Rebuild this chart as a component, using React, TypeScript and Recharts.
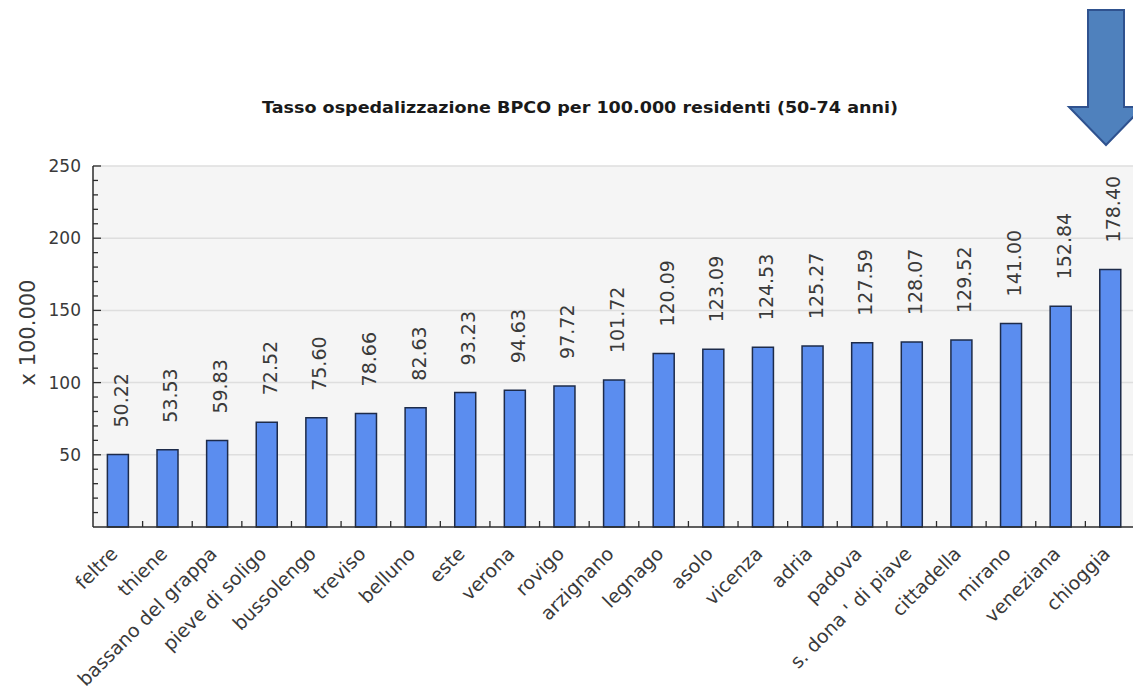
import { Bar, BarChart, CartesianGrid, LabelList, XAxis, YAxis } from "recharts";

const districts = [
  "feltre",
  "thiene",
  "bassano del grappa",
  "pieve di soligo",
  "bussolengo",
  "treviso",
  "belluno",
  "este",
  "verona",
  "rovigo",
  "arzignano",
  "legnago",
  "asolo",
  "vicenza",
  "adria",
  "padova",
  "s. dona ' di piave",
  "cittadella",
  "mirano",
  "veneziana",
  "chioggia",
];

const rates = [
  50.22, 53.53, 59.83, 72.52, 75.6, 78.66, 82.63, 93.23, 94.63, 97.72, 101.72, 120.09, 123.09, 124.53,
  125.27, 127.59, 128.07, 129.52, 141.0, 152.84, 178.4,
];

const yTicks = [0, 10, 20, 30, 40, 50, 60, 70, 80, 90, 100, 110, 120, 130, 140, 150, 160, 170, 180, 190, 200, 210, 220, 230, 240, 250];
const yMajor = [50, 100, 150, 200, 250];

const data = districts.map((name, i) => ({ name, value: rates[i] }));

const FONT = "'DejaVu Sans', Verdana, sans-serif";
const TEXT = "#3a3a3a";
const AXIS = "#2b2b2b";

function YTick({ x, y, payload }: any) {
  const major = payload.value % 50 === 0;
  if (payload.value === 0) return null;
  return (
    <g>
      <line x1={x} x2={x + (major ? 8 : 5)} y1={y} y2={y} stroke={AXIS} strokeWidth={1.3} />
      {major && (
        <text x={x - 12} y={y + 6} textAnchor="end" fontSize={17} fill={TEXT} fontFamily={FONT}>
          {payload.value}
        </text>
      )}
    </g>
  );
}

function XTick({ x, y, payload, index }: any) {
  const band = 49.6;
  const ax = x + 1;
  const ay = y + 28;
  return (
    <g>
      {index < districts.length - 1 && (
        <line x1={x + band / 2} x2={x + band / 2} y1={y} y2={y - 6} stroke={AXIS} strokeWidth={1.3} />
      )}
      <text
        x={ax}
        y={ay}
        textAnchor="end"
        fontSize={19}
        fill={TEXT}
        fontFamily={FONT}
        transform={`rotate(-45 ${ax} ${ay})`}
      >
        {payload.value}
      </text>
    </g>
  );
}

function ValueLabel({ x, y, width, value }: any) {
  const tx = x + width / 2 + 10;
  const ty = y - 27;
  return (
    <text
      x={tx}
      y={ty}
      textAnchor="start"
      fontSize={19}
      fill={TEXT}
      fontFamily={FONT}
      transform={`rotate(-90 ${tx} ${ty})`}
    >
      {Number(value).toFixed(2)}
    </text>
  );
}

function YTitle({ viewBox }: any) {
  const cx = 35;
  const cy = viewBox.y + viewBox.height / 2 - 14;
  return (
    <text
      x={cx}
      y={cy}
      textAnchor="middle"
      fontSize={21}
      fill={TEXT}
      fontFamily={FONT}
      transform={`rotate(-90 ${cx} ${cy})`}
    >
      x 100.000
    </text>
  );
}

export default function App() {
  return (
    <div style={{ position: "fixed", left: 0, top: 0, width: 1133, height: 699, overflow: "hidden", background: "#fff" }}>
      <BarChart
        width={1140}
        height={699}
        data={data}
        margin={{ top: 166, right: 5, bottom: 0, left: 0 }}
        barCategoryGap="29%"
      >
        <CartesianGrid
          vertical={false}
          fill="#f5f5f5"
          stroke="#dedede"
          strokeWidth={1.5}
          horizontalValues={yMajor}
        />
        <XAxis
          dataKey="name"
          height={172}
          interval={0}
          tickLine={false}
          tickSize={0}
          tickMargin={0}
          stroke={AXIS}
          strokeWidth={1.5}
          tick={<XTick />}
        />
        <YAxis
          width={93}
          domain={[0, 250]}
          ticks={yTicks}
          interval={0}
          tickLine={false}
          tickSize={0}
          tickMargin={0}
          stroke={AXIS}
          strokeWidth={1.5}
          tick={<YTick />}
          label={<YTitle />}
        />
        <Bar dataKey="value" fill="#5b8def" stroke="#1d2b4a" strokeWidth={1.5} isAnimationActive={false}>
          <LabelList dataKey="value" content={<ValueLabel />} />
        </Bar>
      </BarChart>
      <svg width={1133} height={699} style={{ position: "absolute", left: 0, top: 0, pointerEvents: "none" }}>
        <text
          x={580}
          y={113}
          textAnchor="middle"
          fontSize={16}
          fontWeight="bold"
          fill="#1a1a1a"
          fontFamily={FONT}
          textLength={636}
          lengthAdjust="spacingAndGlyphs"
        >
          Tasso ospedalizzazione BPCO per 100.000 residenti (50-74 anni)
        </text>
        <path
          d="M1088 10 L1124 10 L1124 107 L1143 107 L1106 145 L1069 107 L1088 107 Z"
          fill="#4f81bd"
          stroke="#2f528f"
          strokeWidth={2}
        />
      </svg>
    </div>
  );
}
